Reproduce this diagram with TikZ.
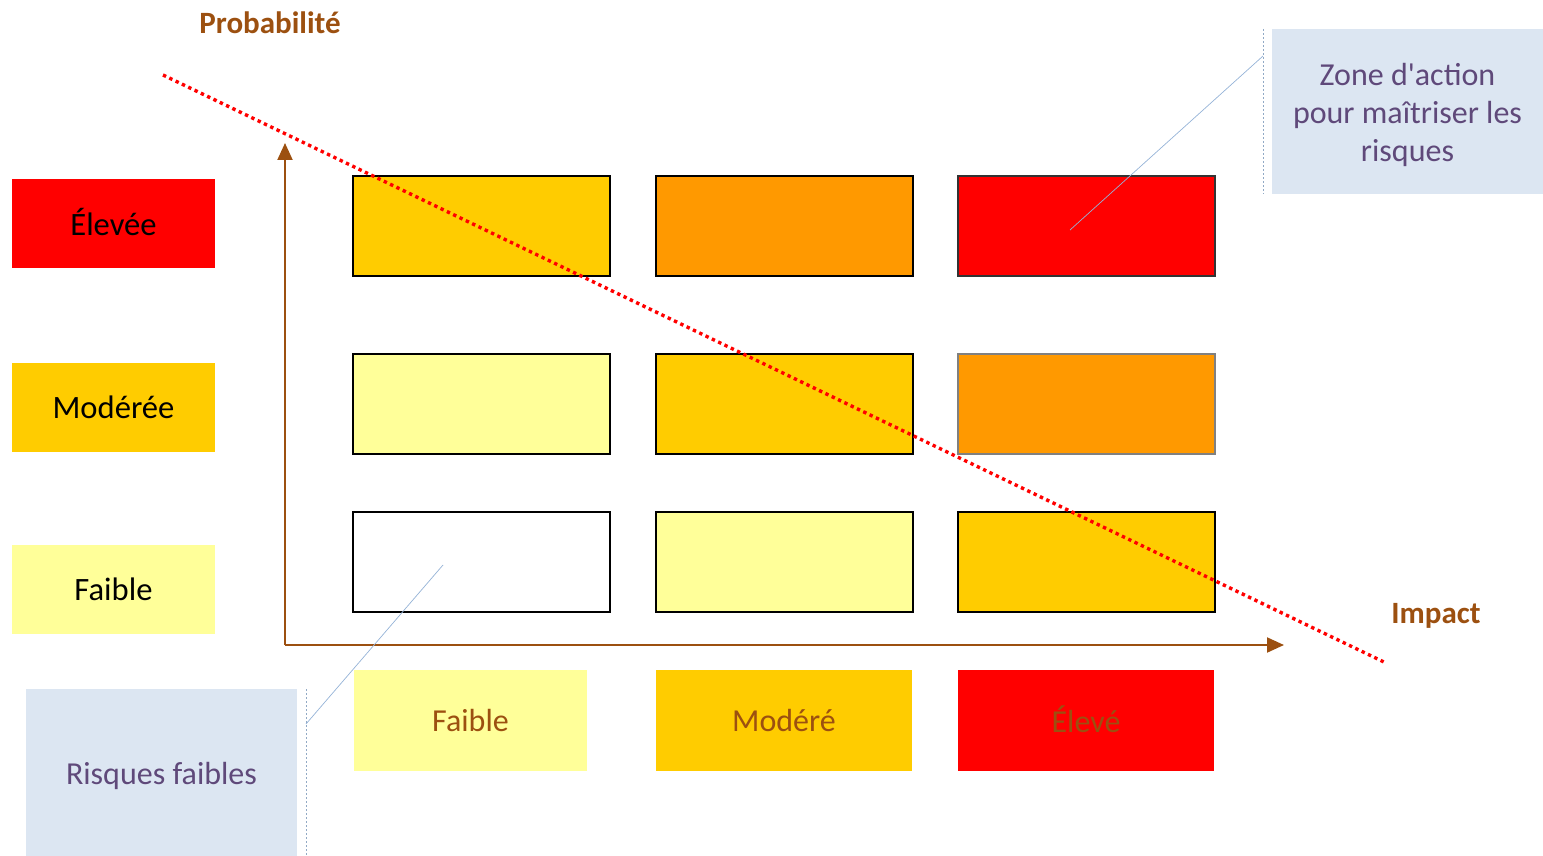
\documentclass[tikz,border=0pt]{standalone}
\usepackage{fontspec}
\setmainfont{Carlito}
\usetikzlibrary{arrows.meta}
\definecolor{cRed}{RGB}{255,0,0}
\definecolor{cGold}{RGB}{255,204,0}
\definecolor{cOrange}{RGB}{255,153,0}
\definecolor{cLight}{RGB}{255,255,153}
\definecolor{cBrown}{RGB}{156,80,16}
\definecolor{cCallout}{RGB}{220,230,242}
\definecolor{cPurple}{RGB}{95,73,122}
\definecolor{cLeader}{RGB}{149,179,215}
\tikzset{
  lbl/.style={draw=none, inner sep=0pt, minimum width=101.5pt, minimum height=44.5pt, font=\fontsize{16.3}{20}\selectfont, text=black},
  cellbox/.style={draw=black, line width=1pt, inner sep=0pt, minimum width=128.5pt, minimum height=50pt},
  botlbl/.style={draw=none, inner sep=0pt, minimum height=50.5pt, font=\fontsize{16}{20}\selectfont, text=cBrown},
  callout/.style={fill=cCallout, draw=none, inner sep=0pt, minimum width=135.5pt, align=center, text=cPurple, font=\fontsize{16}{19}\selectfont},
  axis/.style={draw=cBrown, line width=1pt, -{Triangle[length=8.5pt,width=7.5pt]}},
  axlbl/.style={text=cBrown, font=\fontsize{15.5}{18}\selectfont\bfseries},
  leader/.style={draw=cLeader, line width=0.35pt},
  sep/.style={draw=cLeader!80!gray, line width=0.35pt, dash pattern=on 1pt off 1pt},
  risk/.style={draw=cRed, line width=1.7pt, dash pattern=on 1.7pt off 1.8pt}
}
\begin{document}
\begin{tikzpicture}[x=0.5pt,y=-0.5pt]
\useasboundingbox (0,0) rectangle (1543,856);
% left labels
\node[lbl, fill=cRed] (pHigh) at (113.5,223.5) {\raisebox{0.8pt}[\height][\depth]{Élevée}};
\node[lbl, fill=cGold] (pMid) at (113.5,407) {Modérée};
\node[lbl, fill=cLight] (pLow) at (113.5,589.5) {Faible};
% grid
\node[cellbox, fill=cGold] (c13) at (481.5,226) {};
\node[cellbox, fill=cOrange] (c23) at (784.5,226) {};
\node[cellbox, fill=cRed, draw=black!80] (c33) at (1086,226) {};
\node[cellbox, fill=cLight] (c12) at (481.5,403.5) {};
\node[cellbox, fill=cGold] (c22) at (784.5,403.5) {};
\node[cellbox, fill=cOrange, draw=black!50] (c32) at (1086,403.5) {};
\node[cellbox, fill=white] (c11) at (481.5,562) {};
\node[cellbox, fill=cLight] (c21) at (784.5,562) {};
\node[cellbox, fill=cGold] (c31) at (1086,562) {};
% bottom labels
\node[botlbl, fill=cLight, minimum width=116.5pt] (iLow) at (470.5,720.5) {Faible};
\node[botlbl, fill=cGold, minimum width=128pt] (iMid) at (784,720.5) {Modéré};
\node[botlbl, fill=cRed, minimum width=128pt] (iHigh) at (1086,720.5) {\raisebox{1.2pt}{Élevé}};
% axes
\coordinate (O) at (285,645);
\coordinate (Ytop) at (285,143);
\coordinate (Xend) at (1284,645);
\draw[axis] (O) -- (Ytop);
\draw[axis] (O) -- (Xend);
\node[axlbl] (ylab) at (270,23) {Probabilité};
\node[axlbl] (xlab) at (1436,616) {Impact};
% callouts
\node[callout, minimum height=82.5pt] (zone) at (1407.5,111.5) {\raisebox{-1.5pt}[\height][\depth]{\parbox{135pt}{\centering Zone d\textquotesingle action\\pour maîtriser les\\risques}}};
\node[callout, minimum height=83.5pt] (faibles) at (161.5,772.5) {\raisebox{-1.5pt}[\height][\depth]{Risques faibles}};
\coordinate (zs1) at (1263,29);
\coordinate (zs2) at (1263,194);
\coordinate (zk) at (1263,56);
\coordinate (zt) at (1070,230);
\draw[sep] (zs1) -- (zs2);
\draw[leader] (zk) -- (zt);
\coordinate (fs1) at (306,689);
\coordinate (fs2) at (306,856);
\coordinate (fk) at (306,724);
\coordinate (ft) at (443,565);
\draw[sep] (fs1) -- (fs2);
\draw[leader] (fk) -- (ft);
% risk line
\coordinate (r1) at (163,75);
\coordinate (r2) at (1386,663);
\draw[risk] (r1) -- (r2);
\end{tikzpicture}
\end{document}
